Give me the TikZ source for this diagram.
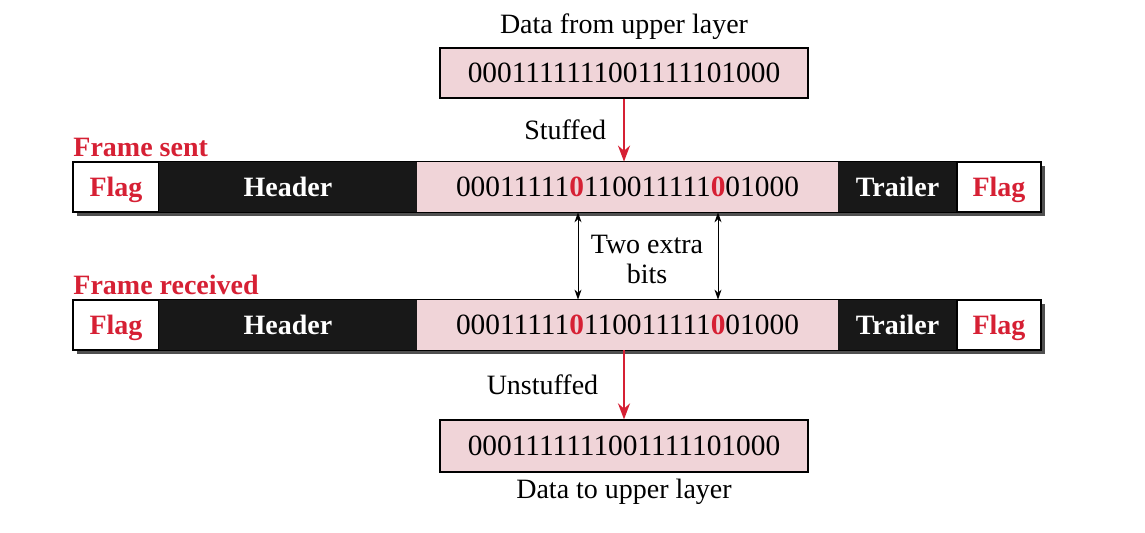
\documentclass[tikz,border=0pt]{standalone}
\usepackage{fontspec}
\setmainfont{Liberation Serif}
\usetikzlibrary{arrows.meta}
\definecolor{fred}{RGB}{214,32,52}
\definecolor{fpink}{RGB}{240,212,216}
\definecolor{fblack}{RGB}{24,24,24}
\definecolor{fshadow}{RGB}{80,80,80}
\newcommand{\rz}{{\bfseries\color{fred}0}}
\begin{document}
\begin{tikzpicture}[x=0.5pt,y=-0.5pt,
  every node/.style={font=\fontsize{14}{15}\selectfont},
  databox/.style={draw=black, line width=0.6pt, fill=fpink, minimum height=25pt, inner sep=0pt, font=\fontsize{14.7}{15}\selectfont, text height=11.5pt, text depth=1.6pt},
  framedata/.style={fill=fpink, minimum height=25pt, inner sep=0pt, font=\fontsize{14.7}{15}\selectfont, text height=11.5pt, text depth=1.6pt},
  flagbox/.style={draw=black, line width=0.6pt, fill=white, text=fred, font=\fontsize{14}{15}\selectfont\bfseries, minimum height=25pt, inner sep=0pt, text height=11pt, text depth=1.7pt},
  darkbox/.style={fill=fblack, text=white, font=\fontsize{14}{15}\selectfont\bfseries, minimum height=25pt, inner sep=0pt, text height=11pt, text depth=1.7pt},
  frameline/.style={draw=black, line width=0.7pt},
  redarrow/.style={draw=fred, line width=1.1pt, -{Stealth[length=8pt,width=6pt]}},
  bitarrow/.style={draw=black, line width=0.5pt, {Stealth[length=5pt,width=3.5pt]}-{Stealth[length=5pt,width=3.5pt]}},
  framelabel/.style={text=fred, font=\fontsize{14}{15}\selectfont\bfseries, anchor=base west, inner sep=0pt},
  plainlabel/.style={anchor=base, inner sep=0pt}
]
\useasboundingbox (0,0) rectangle (1145,533);

% top data
\node[plainlabel] (tlabel) at (624,34) {Data from upper layer};
\node[databox, minimum width=184pt] (top) at (624,73) {0001111111001111101000};

% frame sent
\node[framelabel] (sentlabel) at (73,157) {Frame sent};
\fill[fshadow] (77,166) rectangle (1045,216);
\node[flagbox, minimum width=43pt] (sflagL) at (116,187) {Flag};
\node[darkbox, minimum width=129pt] (shead) at (288,187) {Header};
\node[framedata, minimum width=210.5pt] (sdata) at (627.5,187) {00011111\rz110011111\rz01000};
\node[darkbox, minimum width=59.5pt] (strail) at (897.5,187) {Trailer};
\node[flagbox, minimum width=42pt] (sflagR) at (999,187) {Flag};
\draw[frameline] (sflagL.north west) rectangle (sflagR.south east);

% frame received
\node[framelabel] (reclabel) at (73,295) {Frame received};
\fill[fshadow] (77,304) rectangle (1045,354);
\node[flagbox, minimum width=43pt] (rflagL) at (116,325) {Flag};
\node[darkbox, minimum width=129pt] (rhead) at (288,325) {Header};
\node[framedata, minimum width=210.5pt] (rdata) at (627.5,325) {00011111\rz110011111\rz01000};
\node[darkbox, minimum width=59.5pt] (rtrail) at (897.5,325) {Trailer};
\node[flagbox, minimum width=42pt] (rflagR) at (999,325) {Flag};
\draw[frameline] (rflagL.north west) rectangle (rflagR.south east);

% bottom data
\node[databox, minimum width=184pt, minimum height=26pt] (bot) at (624,446) {0001111111001111101000};
\node[plainlabel] (blabel) at (624,499) {Data to upper layer};

% arrows
\draw[redarrow] (top.south) -- (top.south |- sdata.north) node[midway, left, xshift=-5pt] (stuffed) {Stuffed};
\draw[redarrow] (bot.north |- rdata.south) -- (bot.north) node[midway, left, xshift=-9pt] (unstuffed) {Unstuffed};

\coordinate (z1) at (578,0);
\coordinate (z2) at (718,0);
\draw[bitarrow] (sdata.south -| z1) -- (rdata.north -| z1);
\draw[bitarrow] (sdata.south -| z2) -- (rdata.north -| z2);
\node[align=center] (extra) at (647,259) {Two extra\\bits};
\end{tikzpicture}
\end{document}
